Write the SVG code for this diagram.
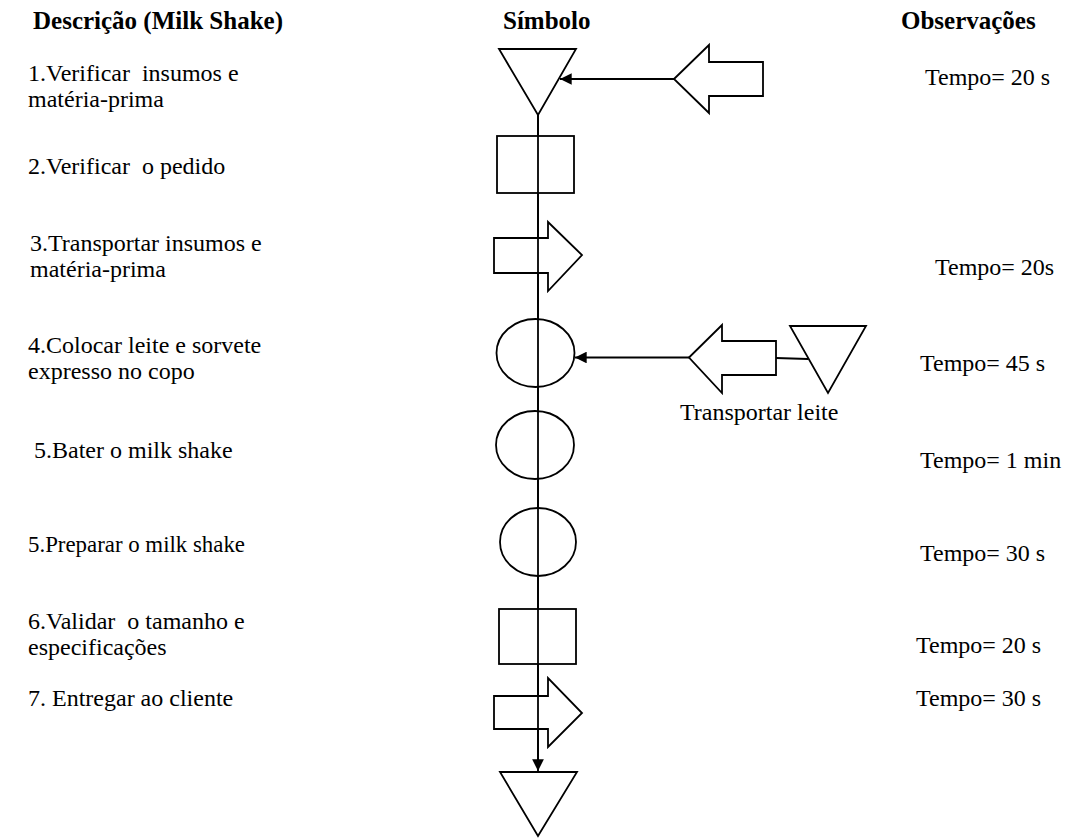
<svg xmlns="http://www.w3.org/2000/svg" width="1085" height="838" viewBox="0 0 1085 838">
  <style>
    .shape { fill: #ffffff; stroke: #000000; stroke-width: 1.8; }
    .flow { fill: none; stroke: #000000; stroke-width: 1.8; }
    .txt { font-family: "Liberation Serif", "Times New Roman", serif; font-size: 24px; fill: #000000; white-space: pre; }
    .hdr { font-family: "Liberation Serif", "Times New Roman", serif; font-size: 25px; font-weight: bold; fill: #000000; }
  </style>
  <defs>
    <marker id="arrowHead" viewBox="0 0 10 10" refX="10" refY="5" markerWidth="6.5" markerHeight="6.5" orient="auto" markerUnits="strokeWidth">
      <path d="M0,0 L10,5 L0,10 Z" fill="#000000"/>
    </marker>
  </defs>
  <rect width="1085" height="838" fill="#ffffff"/>

  <!-- column headers -->
  <g id="headers">
    <text class="hdr" x="33" y="29">Descrição (Milk Shake)</text>
    <text class="hdr" x="503" y="29">Símbolo</text>
    <text class="hdr" x="901" y="29">Observações</text>
  </g>

  <!-- step descriptions -->
  <g id="descriptions" xml:space="preserve">
    <text class="txt" x="28" y="81">1.Verificar  insumos e</text>
    <text class="txt" x="28" y="107">matéria-prima</text>
    <text class="txt" x="28" y="174">2.Verificar  o pedido</text>
    <text class="txt" x="30" y="251">3.Transportar insumos e</text>
    <text class="txt" x="30" y="277">matéria-prima</text>
    <text class="txt" x="28" y="353">4.Colocar leite e sorvete</text>
    <text class="txt" x="28" y="379">expresso no copo</text>
    <text class="txt" x="34" y="458">5.Bater o milk shake</text>
    <text class="txt" x="28" y="552" textLength="217" lengthAdjust="spacingAndGlyphs">5.Preparar o milk shake</text>
    <text class="txt" x="28" y="629">6.Validar  o tamanho e</text>
    <text class="txt" x="28" y="655">especificações</text>
    <text class="txt" x="28" y="706">7. Entregar ao cliente</text>
  </g>

  <!-- observations -->
  <g id="observations">
    <text class="txt" x="925" y="85">Tempo= 20 s</text>
    <text class="txt" x="935" y="275">Tempo= 20s</text>
    <text class="txt" x="920" y="371">Tempo= 45 s</text>
    <text class="txt" x="920" y="468">Tempo= 1 min</text>
    <text class="txt" x="920" y="561">Tempo= 30 s</text>
    <text class="txt" x="916" y="653">Tempo= 20 s</text>
    <text class="txt" x="916" y="706">Tempo= 30 s</text>
  </g>

  <!-- main vertical flow line and side connectors -->
  <g id="connectors">
    <line class="flow" x1="538" y1="115" x2="538" y2="771" marker-end="url(#arrowHead)"/>
    <line class="flow" x1="674" y1="79" x2="560" y2="79" marker-end="url(#arrowHead)"/>
    <line class="flow" x1="689" y1="357.5" x2="575" y2="357.5" marker-end="url(#arrowHead)"/>
    <line class="flow" x1="776" y1="358" x2="808" y2="359"/>
  </g>

  <!-- symbols on the process line -->
  <g id="step1-storage">
    <polygon class="shape" points="499,49 576,49 538,115"/>
  </g>
  <g id="supply-transport">
    <polygon class="shape" points="674,79 709,45 709,62 763,62 763,96 709,96 709,113"/>
  </g>
  <g id="step2-inspection">
    <rect class="shape" x="497" y="136" width="77" height="57"/>
  </g>
  <g id="step3-transport">
    <polygon class="shape" points="494,238 548,238 548,222 582,255 548,291 548,273 494,273"/>
  </g>
  <g id="step4-operation">
    <ellipse class="shape" cx="535.5" cy="353" rx="39" ry="34"/>
  </g>
  <g id="milk-transport">
    <polygon class="shape" points="689,357.5 722,325 722,341 776,341 776,375 722,375 722,393"/>
  </g>
  <g id="milk-storage">
    <polygon class="shape" points="790,326 866,326 828,393"/>
    <text class="txt" x="680" y="420">Transportar leite</text>
  </g>
  <g id="step5-operation">
    <ellipse class="shape" cx="535" cy="445" rx="39" ry="34"/>
  </g>
  <g id="step6-operation">
    <ellipse class="shape" cx="538" cy="542" rx="38" ry="34"/>
  </g>
  <g id="step7-inspection">
    <rect class="shape" x="499" y="609" width="77" height="55"/>
  </g>
  <g id="step8-transport">
    <polygon class="shape" points="494,696 548,696 548,678 582,713 548,747 548,729 494,729"/>
  </g>
  <g id="final-storage">
    <polygon class="shape" points="500,772 577,772 538,836"/>
  </g>

  <!-- vertical line drawn over the symbols -->
  <g id="flow-overlay">
    <line class="flow" x1="538" y1="115" x2="538" y2="760"/>
  </g>
</svg>
